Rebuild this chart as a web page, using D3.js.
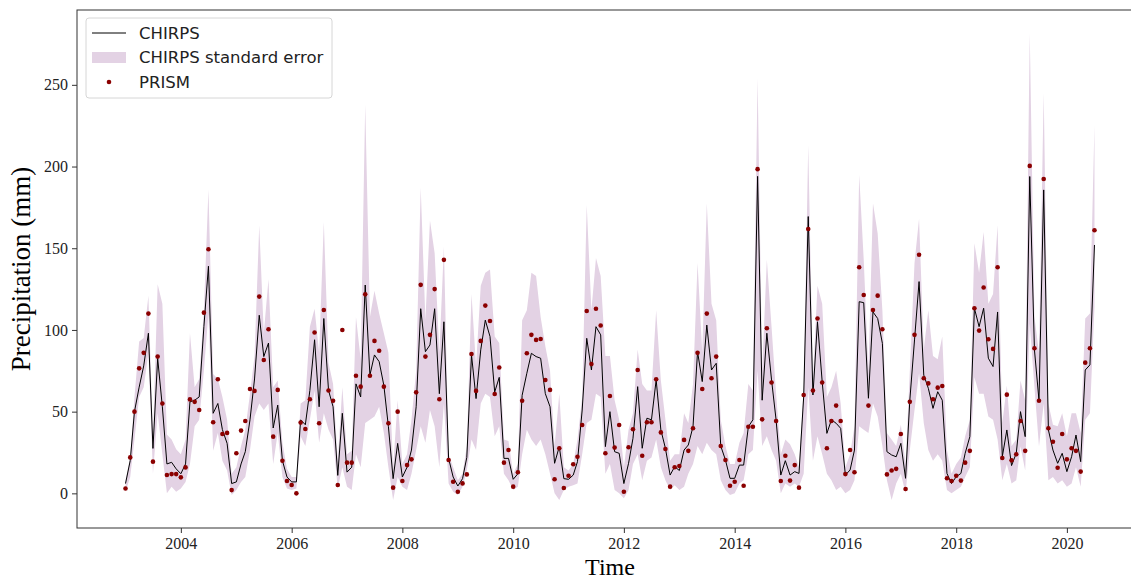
<!DOCTYPE html>
<html>
<head>
<meta charset="utf-8">
<script src="https://cdn.jsdelivr.net/npm/d3@7"></script>
<style>
  body { margin: 0; background: #fff; }
  .tick text { font-family: "Liberation Serif", "Times New Roman", serif; font-size: 16px; fill: #222; }
</style>
</head>
<body>
<div id="chart"></div>
<script>
// monthly values, Jan 2003 .. Jul 2020
const startYear = 2003

const chirps = [
  6, 20, 50, 65, 78, 98, 27.5, 82.6, 53, 18, 19, 15,
  12, 18, 56, 57, 59, 102, 139, 49, 55, 39, 30.6, 6,
  7, 18, 25.5, 45, 70, 109, 83.7, 92, 40, 54, 20, 10,
  7, 7, 45, 42, 63, 94, 53, 107, 63, 53, 11, 49,
  13, 16, 67, 59, 127.5, 72.4, 84.7, 80.6, 66, 40.8, 9, 30.6,
  10, 16, 26.5, 53, 113, 86.7, 90.8, 113, 61, 105, 21.4, 10,
  4.5, 9, 22, 84.7, 58, 87.8, 106, 96, 62, 71, 21.4, 21.4,
  8.6, 12, 60, 73.5, 85.7, 83.7, 82.7, 61, 53, 18.4, 28.6, 9,
  8.6, 11.2, 19.4, 51, 94.9, 75.5, 102, 97, 28.6, 50, 25.5, 24.5,
  6, 18.4, 33.7, 65.3, 27.6, 46, 45, 69.4, 38.8, 27.6, 11.2, 16.3,
  14, 26.5, 29.6, 40.8, 86.7, 68.4, 103, 75.5, 79.6, 29, 20.4, 9.2,
  9.2, 17.3, 17.3, 40.8, 45, 194, 57, 98, 69.4, 45, 11.2, 20,
  11.2, 13.3, 12.2, 59, 169.4, 60.2, 105, 68.4, 36.7, 45, 42.9, 39.8,
  11.2, 14.3, 26.5, 117.3, 116.7, 58.2, 111, 107, 91.8, 25.5, 23.5, 22.4,
  30.6, 9.2, 57, 93.9, 129.6, 72.4, 64.3, 52, 62.2, 57, 12.2, 6,
  10.2, 12.2, 24.5, 34.7, 113.3, 102, 113.3, 82.7, 77.6, 111, 22.4, 38.8,
  17, 24.5, 50, 34.7, 193.9, 87.8, 57, 185.7, 38.8, 26.5, 18.4, 24.5,
  13.3, 22.4, 35.7, 19.4, 75.5, 78.6, 152
]

const upper = [
  8, 22, 59, 93, 95, 121, 35, 128, 116, 36, 33, 27,
  24, 33, 98, 65, 70, 112, 186, 73, 70, 59, 45, 12,
  16, 29, 39, 61, 84, 164, 98, 131, 65, 69, 31, 15,
  10, 10, 55, 57, 102, 113, 86, 166, 80, 67, 20, 65,
  24, 26, 108, 82, 238, 108, 124, 110, 98, 86, 16, 57,
  18, 24, 45, 75, 187, 106, 167, 147, 86, 151, 24, 16,
  8, 12, 29, 122, 78, 127, 135, 137, 96, 92, 33, 32,
  12, 18, 106, 112, 135, 133, 108, 90, 75, 29, 61, 16,
  14, 18, 33, 59, 176.5, 112, 144, 133, 84, 84, 57, 45,
  16, 39, 49, 88, 67, 63, 63, 112, 69, 45, 20, 24,
  24, 49, 43, 67, 141, 86, 177.5, 116, 106, 45, 29, 18,
  18, 31, 37, 67, 63, 254, 75, 143, 102, 61, 24, 33,
  30, 24, 16, 65, 213, 70, 127, 116, 59, 65, 75, 55,
  16, 24, 41, 195, 143, 75, 177.5, 159, 112, 37, 33, 29,
  42, 18, 75, 141, 168, 88, 112, 84, 82, 96, 26.5, 12,
  18, 22, 35, 45, 153, 135, 160, 116, 122, 164, 43, 66,
  29, 33, 69, 57, 281.6, 108, 86, 245, 55, 42, 41, 49,
  35, 49, 49, 37, 107, 110, 225.5
]

const lower = [
  1, 10, 33, 59, 65, 86, 12, 49, 24, 0, 4, 1,
  3, 7, 18, 41, 45, 75, 110, 26, 37, 20, 14, -1,
  2, 7, 10, 26.5, 47, 55, 51, 55, 18, 37, 10, 3,
  2, 3, 35, 29, 45, 63, 31, 49, 39, 33, 3, 16,
  4, 2, 24, 16, 43, 45, 47, 53, 37, 16, -4, 10,
  4, 2, 12, 26.5, 41, 31, 51, 41, 16, 55, 6, 1,
  -1, 4, 14, 33, 26.5, 55, 61, 59, 35, 41, 12, 8,
  2, 4, 24, 39, 33, 29, 33, 24, 12, 0, -4, 2,
  4, 5, 6, 24, 43, 45, 61, 59, 12, 18, 2, 0,
  -3, 2, 18, 24, 8, 20, 22, 33, 16, 8, 2, 5,
  2, 4, 12, 18, 29, 24, 31, 26.5, 24, 8, 2, -1,
  0, 6, 8, 24, 26.5, 75, 29, 35, 26.5, 20, 0, 6,
  4, 6, 4, 12, 65, 20, 35, 24, 12, 8, 2, 4,
  0, 2, 8, 41, 39, 37, 55, 47, 29, 8, -4, 6,
  12, 0, 26.5, 51, 73.5, 43, 26.5, 20, 24, 20, 2, 0,
  2, 4, 10, 16, 71, 61, 61, 47, 45, 33, 8, 18,
  6, 8, 28.6, 14, 104, 65, 28.6, 55, 8, 10, 6, 8,
  4, 6, 16, 4, 45, 49, 114
]

const prism = [
  3, 22, 50, 76.5, 86, 110, 19.4, 83.7, 55, 11.2, 11.8, 11.8,
  9.8, 15.9, 57.5, 56, 51, 110.6, 149.4, 43.5, 69.8, 36.3, 37, 2,
  24.5, 38.4, 44.3, 63.9, 62.7, 120.4, 81.6, 100.4, 34.7, 63.3, 20, 7.6,
  5.1, 0, 43.3, 39.4, 57.6, 98.4, 42.9, 112.2, 62.9, 56.7, 5.1, 100,
  18.8, 18.8, 72, 65.3, 121.8, 72, 93.3, 87.3, 65.3, 42.9, 3.5, 50,
  7.6, 17.3, 20.8, 61.8, 127.6, 83.7, 97, 125, 57.6, 142.9, 20.4, 7.1,
  1, 6.1, 11.6, 85.3, 62.7, 93.3, 114.9, 105.5, 60.8, 77, 18.8, 26.5,
  4.1, 12.9, 56.7, 85.7, 97, 93.9, 94.5, 69.4, 63.3, 8.6, 27.6, 3.3,
  10.8, 17.8, 22.4, 41.8, 111.6, 79.2, 113, 102.7, 24.5, 59.6, 28, 41.8,
  1, 28.2, 39.2, 75.5, 23, 43.5, 43.5, 69.8, 37.3, 27.1, 4.1, 16,
  16.7, 32.7, 26, 39.8, 86, 63.9, 110, 70.4, 83.7, 29, 20.4, 4.7,
  7.1, 20.4, 4.7, 40.8, 40.8, 198.4, 45.3, 101, 67.8, 44.3, 7.6, 23,
  7.8, 17.3, 3.5, 60.2, 161.8, 62.9, 107, 67.8, 27.6, 44.3, 53.7, 44.3,
  11.8, 26.5, 12.9, 138.4, 121.4, 53.7, 112.2, 121, 100.4, 11.6, 14, 15,
  36.3, 2.7, 56, 97, 146, 70.4, 67.3, 57.6, 64.7, 65.7, 9.2, 7.6,
  10.8, 7.8, 18.8, 26, 113.3, 99.6, 126, 94.3, 88.4, 138.4, 21.6, 60.4,
  20.2, 23.9, 44.3, 26, 200.4, 88.8, 56.7, 192.4, 39.8, 31.6, 15.7, 36.3,
  20.8, 27.6, 26, 13.3, 80, 88.8, 161
]

const yTicks = [0, 50, 100, 150, 200, 250]
const xTickYears = [2004, 2006, 2008, 2010, 2012, 2014, 2016, 2018, 2020]

const months = chirps.map((d, i) => new Date(startYear, i, 1))

const width = 1131
const height = 580
const plot = {left: 77, top: 10, right: 1143, bottom: 528}

const svg = d3.select('#chart')
  .append('svg')
  .attr('width', width)
  .attr('height', height)

const x = d3.scaleTime()
  .domain([new Date(2002, 1, 15), new Date(2021, 4, 17)])
  .range([plot.left, plot.right])

const y = d3.scaleLinear()
  .domain([-21.2, 295.8])
  .range([plot.bottom, plot.top])

svg.append('clipPath').attr('id', 'clip')
  .append('rect')
  .attr('x', plot.left).attr('y', plot.top)
  .attr('width', plot.right - plot.left).attr('height', plot.bottom - plot.top)

const g = svg.append('g').attr('clip-path', 'url(#clip)')

const area = d3.area()
  .x((d, i) => x(months[i]))
  .y0((d, i) => y(lower[i]))
  .y1((d, i) => y(upper[i]))

g.append('path')
  .datum(chirps)
  .attr('d', area)
  .attr('fill', '#e3d2e4')

const line = d3.line()
  .x((d, i) => x(months[i]))
  .y(d => y(d))

g.append('path')
  .datum(chirps)
  .attr('d', line)
  .attr('fill', 'none')
  .attr('stroke', '#000')
  .attr('stroke-width', 1)

g.selectAll('.prism')
  .data(prism)
  .join('circle')
  .attr('class', 'prism')
  .attr('cx', (d, i) => x(months[i]))
  .attr('cy', d => y(d))
  .attr('r', 2.3)
  .attr('fill', '#8b0000')

// axes
const xAxis = d3.axisBottom(x)
  .tickValues(xTickYears.map(yr => new Date(yr, 0, 1)))
  .tickFormat(d3.timeFormat('%Y'))
  .tickSize(5)
  .tickPadding(5)

const yAxis = d3.axisLeft(y)
  .tickValues(yTicks)
  .tickSize(5)
  .tickPadding(4)

const xAxisG = svg.append('g')
  .attr('transform', `translate(0,${plot.bottom})`)
  .call(xAxis)
xAxisG.select('.domain').remove()

const yAxisG = svg.append('g')
  .attr('transform', `translate(${plot.left},0)`)
  .call(yAxis)
yAxisG.select('.domain').remove()

svg.selectAll('.tick line').attr('stroke', '#333')

svg.append('rect')
  .attr('x', plot.left).attr('y', plot.top)
  .attr('width', plot.right - plot.left).attr('height', plot.bottom - plot.top)
  .attr('fill', 'none')
  .attr('stroke', '#333')
  .attr('stroke-width', 1)

svg.append('text')
  .attr('x', (plot.left + plot.right) / 2)
  .attr('y', 575)
  .attr('text-anchor', 'middle')
  .style('font-family', '"Liberation Serif", "Times New Roman", serif')
  .style('font-size', '24px')
  .text('Time')

svg.append('text')
  .attr('transform', `translate(30,${(plot.top + plot.bottom) / 2}) rotate(-90)`)
  .attr('text-anchor', 'middle')
  .style('font-family', '"Liberation Serif", "Times New Roman", serif')
  .style('font-size', '27px')
  .text('Precipitation (mm)')

// legend
const legend = svg.append('g')
legend.append('rect')
  .attr('x', 86).attr('y', 18)
  .attr('width', 246).attr('height', 80)
  .attr('rx', 3)
  .attr('fill', '#fff')
  .attr('fill-opacity', 0.8)
  .attr('stroke', '#d6d6d6')

const legendFont = '"DejaVu Sans", sans-serif'
legend.append('line')
  .attr('x1', 92).attr('x2', 126)
  .attr('y1', 33).attr('y2', 33)
  .attr('stroke', '#000').attr('stroke-width', 1)
legend.append('rect')
  .attr('x', 92).attr('y', 52)
  .attr('width', 34).attr('height', 11)
  .attr('fill', '#e3d2e4')
legend.append('circle')
  .attr('cx', 109).attr('cy', 82)
  .attr('r', 2.3)
  .attr('fill', '#8b0000')

const legendLabels = ['CHIRPS', 'CHIRPS standard error', 'PRISM']
legend.selectAll('.lab')
  .data(legendLabels)
  .join('text')
  .attr('class', 'lab')
  .attr('x', 139)
  .attr('y', (d, i) => 33 + i * 24.5)
  .attr('dy', '0.35em')
  .style('font-family', legendFont)
  .style('font-size', '16.5px')
  .style('fill', '#222')
  .text(d => d)
</script>
</body>
</html>
